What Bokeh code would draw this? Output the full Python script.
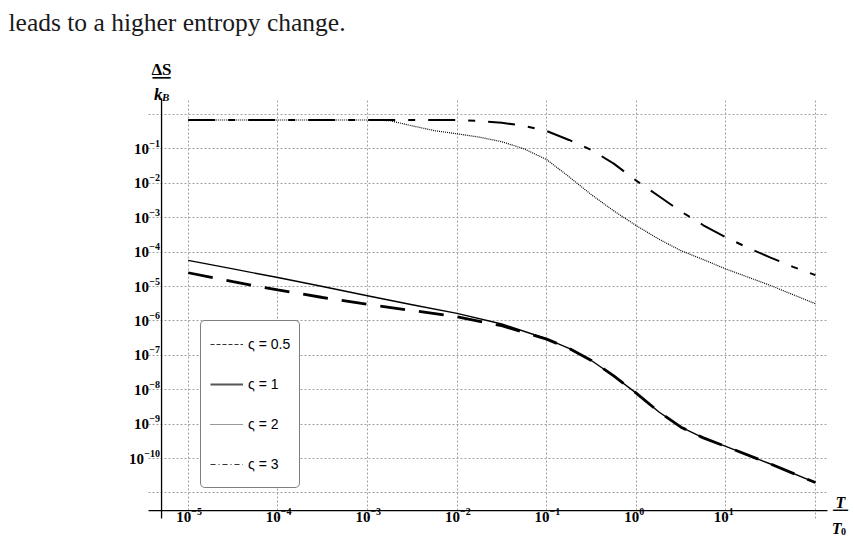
from bokeh.plotting import figure
from bokeh.models import (Range1d, Label, LabelSet, ColumnDataSource, BoxAnnotation,
                          Legend, LegendItem, Grid, FixedTicker)
from bokeh.embed import file_html
from bokeh.resources import INLINE

# T/T0 samples and Delta S / k_B
t_low = [1e-5, 3.16e-5, 1e-4, 3.16e-4, 1e-3, 3.16e-3, 1e-2, 3.16e-2, 0.1, 0.178,
         0.316, 0.562, 1.0, 1.78, 3.16, 5.62, 10.0, 31.6, 100.0]
ds_half = [2.51e-5, 1.38e-5, 7.94e-6, 4.79e-6, 3.02e-6, 2.00e-6, 1.32e-6, 7.24e-7,
           2.95e-7, 1.58e-7, 7.08e-8, 2.51e-8, 7.94e-9, 2.29e-9, 8.13e-10,
           3.98e-10, 2.24e-10, 6.92e-11, 2.00e-11]
ds_one = [5.75e-5, 3.24e-5, 1.82e-5, 1.00e-5, 5.37e-6, 2.95e-6, 1.66e-6, 8.13e-7,
          3.02e-7, 1.58e-7, 7.08e-8, 2.51e-8, 7.94e-9, 2.29e-9, 8.13e-10,
          3.98e-10, 2.24e-10, 6.92e-11, 2.00e-11]

t_two = [1e-5, 1e-4, 1e-3, 1.78e-3, 3.16e-3, 5.62e-3, 1e-2, 1.78e-2, 3.16e-2, 5.62e-2,
         0.1, 0.178, 0.316, 0.562, 1.0, 1.78, 3.16, 5.62, 10.0, 31.6, 100.0]
ds_two = [0.693, 0.693, 0.693, 0.661, 0.468, 0.339, 0.275, 0.219, 0.162, 0.100,
          0.049, 0.0155, 0.00468, 0.00158, 5.89e-4, 2.40e-4, 1.10e-4, 6.03e-5,
          3.24e-5, 1.07e-5, 3.16e-6]

t_three = [1e-5, 1e-4, 1e-3, 1e-2, 1.78e-2, 3.16e-2, 5.62e-2, 0.1, 0.178, 0.316,
           0.562, 1.0, 1.78, 3.16, 5.62, 10.0, 17.8, 31.6, 56.2, 100.0]
ds_three = [0.693, 0.693, 0.693, 0.693, 0.646, 0.575, 0.468, 0.331, 0.182, 0.0933,
            0.0372, 0.0120, 0.00427, 0.00151, 6.03e-4, 2.69e-4, 1.32e-4, 6.92e-5,
            3.72e-5, 2.14e-5]

x_grid_exps = [-5, -4, -3, -2, -1, 0, 1, 2]
y_grid_exps = [-11, -10, -9, -8, -7, -6, -5, -4, -3, -2, -1, 0]
x_tick_exps = [-5, -4, -3, -2, -1, 0, 1]
x_tick_labels = ["−5", "−4", "−3", "−2", "−1", "0", "1"]
y_tick_exps = [-1, -2, -3, -4, -5, -6, -7, -8, -9, -10]
y_tick_labels = ["−1", "−2", "−3", "−4", "−5", "−6", "−7", "−8", "−9", "−10"]
legend_labels = ["ς = 0.5", "ς = 1", "ς = 2", "ς = 3"]


# canvas pixel -> data position (the frame fills the whole canvas, so the
# texts around the plot box can be placed without being clipped)
def at_x(px):
    return 10 ** (-5 + (px - 187.7) / 89.6)


def at_y(py):
    return 10 ** (-(py - 114) / 34.4)


W, H = 854, 536
p = figure(width=W, height=H, x_axis_type="log", y_axis_type="log",
           x_axis_location=None, y_axis_location=None,
           x_range=Range1d(at_x(0), at_x(W)), y_range=Range1d(at_y(H), at_y(0)),
           toolbar_location=None, output_backend="svg",
           min_border_left=0, min_border_right=0, min_border_top=0, min_border_bottom=0)
p.outline_line_color = None
p.background_fill_color = "white"
p.border_fill_color = "white"

# plot box of the original: x 148..827, y 98..518
box_x = (at_x(148), at_x(827))
box_y = (at_y(518), at_y(98))

p.center = [r for r in p.center if not isinstance(r, Grid)]
grid_style = dict(grid_line_color="#a0a0a0", grid_line_dash="2 2", grid_line_width=1)
p.add_layout(Grid(dimension=0, ticker=FixedTicker(ticks=[10.0 ** k for k in x_grid_exps]),
                  cross_bounds=box_y, **grid_style))
p.add_layout(Grid(dimension=1, ticker=FixedTicker(ticks=[10.0 ** k for k in y_grid_exps]),
                  cross_bounds=box_x, **grid_style))

# axes crossing Mathematica style
p.add_layout(BoxAnnotation(left=box_x[0], right=box_x[1], top=at_y(509.4), bottom=at_y(510.7),
                           fill_color="black", fill_alpha=1, line_color=None))
p.add_layout(BoxAnnotation(left=at_x(160.4), right=at_x(161.7), top=box_y[1], bottom=box_y[0],
                           fill_color="black", fill_alpha=1, line_color=None))

# curves
p.line(t_low, ds_one, line_color="black", line_width=1.4, line_join="round")
p.line(t_low, ds_half, line_color="black", line_width=2.8, line_dash="25 14")
p.line(t_two, ds_two, line_color="black", line_width=1.2, line_dash="1 1")
p.line(t_three, ds_three, line_color="black", line_width=2.0, line_dash="27 13 7 13")

# legend swatches (one point each, so nothing shows on the plot)
sw_half = p.line(t_low[:1], ds_half[:1], line_color="#333333", line_width=1, line_dash="4 2")
sw_one = p.line(t_low[:1], ds_one[:1], line_color="#555555", line_width=2)
sw_two = p.line(t_two[:1], ds_two[:1], line_color="#333333", line_width=1, line_dash="1 1")
sw_three = p.line(t_three[:1], ds_three[:1], line_color="#333333", line_width=1,
                  line_dash="5 3 1 3")
legend = Legend(items=[LegendItem(label=lab, renderers=[r]) for lab, r in
                       zip(legend_labels, [sw_half, sw_one, sw_two, sw_three])],
                location=(200, H - 488), margin=0, padding=9, spacing=12,
                glyph_width=33, glyph_height=28, label_height=28, label_standoff=5,
                border_line_color="black", border_line_width=1,
                background_fill_color="white", background_fill_alpha=1,
                label_text_font="Liberation Sans", label_text_font_size="14px",
                label_text_color="black")
if "border_radius" in Legend.properties():
    legend.border_radius = 5
p.add_layout(legend)

# tick labels: "10" plus a raised exponent
base_font = dict(text_font="Liberation Serif", text_font_style="bold",
                 text_font_size="15px", text_color="black")
exp_font = dict(text_font="Liberation Serif", text_font_style="bold",
                text_font_size="10px", text_color="black")
xs = [10.0 ** k for k in x_tick_exps]
xsrc = ColumnDataSource(dict(x=xs, yb=[at_y(521.7)] * len(xs), ye=[at_y(514.6)] * len(xs),
                             base=["10"] * len(xs), exp=x_tick_labels))
p.add_layout(LabelSet(x="x", y="yb", text="base", source=xsrc, text_align="right",
                      text_baseline="alphabetic", x_offset=3, **base_font))
p.add_layout(LabelSet(x="x", y="ye", text="exp", source=xsrc, text_align="left",
                      text_baseline="alphabetic", x_offset=3, **exp_font))

ys = [10.0 ** k for k in y_tick_exps]
# the "10" sits left of its exponent, whose width depends on its length
base_x = [at_x(159.5 - (5.7 + 5.0 * (len(e) - 1)) - 0.4) for e in y_tick_labels]
ysrc = ColumnDataSource(dict(xb=base_x, xe=[at_x(159.5)] * len(ys), y=ys,
                             base=["10"] * len(ys), exp=y_tick_labels))
p.add_layout(LabelSet(x="xb", y="y", text="base", source=ysrc, text_align="right",
                      text_baseline="middle", **base_font))
p.add_layout(LabelSet(x="xe", y="y", text="exp", source=ysrc, text_align="right",
                      text_baseline="middle", y_offset=5.5, **exp_font))

# axis titles as fractions
serif_b = dict(text_font="Liberation Serif", text_font_style="bold", text_color="black")
serif_bi = dict(text_font="Liberation Serif", text_font_style="bold italic", text_color="black")
bar = dict(text_font="DejaVu Sans Mono", text_color="black", text_align="center",
           text_baseline="middle")
p.add_layout(Label(x=at_x(161), y=at_y(69), text="ΔS", text_align="center",
                   text_baseline="alphabetic", text_font_size="17px", **serif_b))
p.add_layout(Label(x=at_x(161), y=at_y(76.5), text="━━━", text_font_size="10px", **bar))
p.add_layout(Label(x=at_x(162), y=at_y(93.5), text="k", text_align="right",
                   text_baseline="alphabetic", text_font_size="17px", **serif_bi))
p.add_layout(Label(x=at_x(161.5), y=at_y(96.5), text="B", text_align="left",
                   text_baseline="alphabetic", text_font_size="11px", **serif_bi))

p.add_layout(Label(x=at_x(840), y=at_y(501.7), text="T", text_align="center",
                   text_baseline="alphabetic", text_font_size="16px", **serif_bi))
p.add_layout(Label(x=at_x(840), y=at_y(509), text="━━━", text_font_size="8.3px", **bar))
p.add_layout(Label(x=at_x(841), y=at_y(528), text="T", text_align="right",
                   text_baseline="alphabetic", text_font_size="16px", **serif_bi))
p.add_layout(Label(x=at_x(840.5), y=at_y(530.5), text="0", text_align="left",
                   text_baseline="alphabetic", text_font_size="10px", **serif_b))

# running text above the figure
p.add_layout(Label(x=at_x(8), y=at_y(21.7), text="leads to a higher entropy change.",
                   text_align="left", text_baseline="alphabetic",
                   text_font="Liberation Serif", text_font_size="25.5px", text_color="#1a1a1a"))

open("out.html", "w").write(file_html(p, INLINE))
